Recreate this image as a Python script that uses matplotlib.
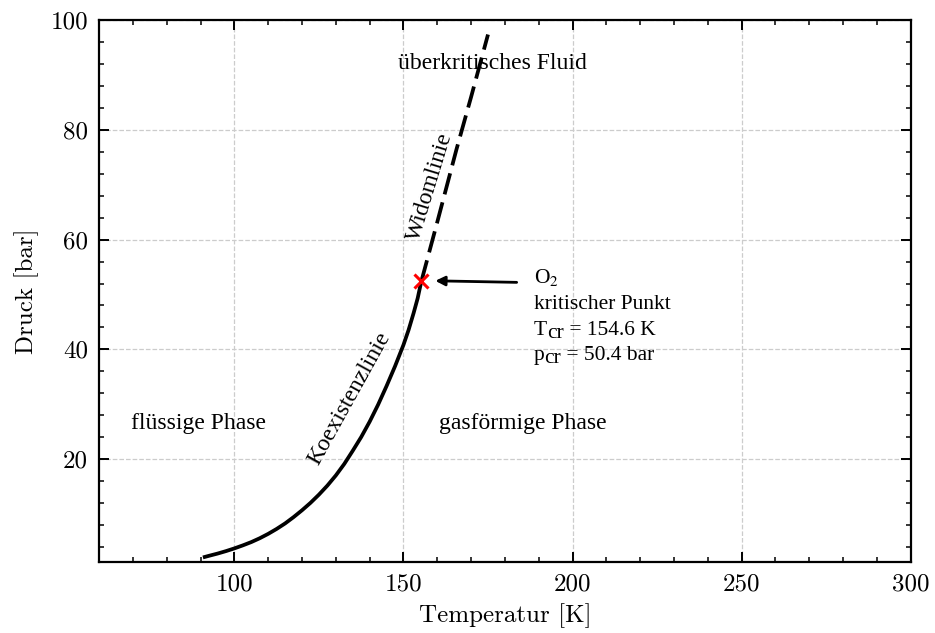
import matplotlib
matplotlib.use("Agg")
import matplotlib.pyplot as plt
from matplotlib.ticker import MultipleLocator

# Koexistenzlinie (Dampfdruckkurve O2)
T_koex = [90.7, 92.5, 95, 97.5, 100, 102.5, 105, 107.5, 110, 112.5, 115, 117.5, 120,
          122.5, 125, 127.5, 130, 132.5, 135, 137.5, 140, 142.5, 145, 147.5, 150,
          151.5, 153, 154.2, 154.9, 155.3]
p_koex = [2.05, 2.35, 2.75, 3.2, 3.7, 4.25, 4.85, 5.55, 6.35, 7.25, 8.25, 9.4, 10.65,
          12.0, 13.5, 15.15, 17.0, 19.1, 21.5, 24.0, 26.8, 29.9, 33.3, 36.9, 40.8,
          43.5, 46.6, 49.3, 51.3, 52.4]

# Widomlinie
T_widom = [155.3, 160, 165.7, 170, 175.0]
p_widom = [52.4, 63.2, 76.5, 86.0, 97.4]

# kritischer Punkt (Marker-Position)
T_crit = 155.3
p_crit = 52.5

x_ticks = [100, 150, 200, 250, 300]
y_ticks = [20, 40, 60, 80, 100]

cm_font = "cmr10"
txt_font = "Liberation Serif"

fig = plt.figure(figsize=(9.35, 6.33), dpi=100)
ax = fig.add_axes([0.106, 0.112, 0.868, 0.856])

ax.plot(T_koex, p_koex, color="black", lw=2.7, solid_capstyle="butt", solid_joinstyle="round")
ax.plot(T_widom, p_widom, color="black", lw=2.7, ls=(0, (5.8, 2.2)))
ax.plot([T_crit], [p_crit], marker="x", color="red", ms=10, mew=2.2, ls="none", zorder=5)

ax.annotate("", xy=(158.6, 52.5), xytext=(184.3, 52.2),
            arrowprops=dict(arrowstyle="-|>", color="black", lw=2, mutation_scale=14))

# Beschriftung kritischer Punkt
fs_ann = 15.5
x_ann = 188.5
ax.text(x_ann, 52.04, "O$_2$", fontsize=fs_ann, family=txt_font, math_fontfamily="stix",
        va="baseline", ha="left")
ax.text(x_ann, 47.3, "kritischer Punkt", fontsize=fs_ann, family=txt_font,
        va="baseline", ha="left")
for y_b, sym, rest in [(42.6, "T", " = 154.6 K"), (38.1, "p", " = 50.4 bar")]:
    t0 = ax.text(x_ann, y_b, sym, fontsize=fs_ann, family=txt_font, va="baseline", ha="left")
    t1 = ax.annotate("cr", xy=(1, 0), xycoords=t0, xytext=(0, -2.2), textcoords="offset points",
                     fontsize=fs_ann, family=txt_font, va="bottom", ha="left")
    ax.annotate(rest, xy=(1, 0), xycoords=t1, xytext=(0, 2.2), textcoords="offset points",
                fontsize=fs_ann, family=txt_font, va="bottom", ha="left")

ax.text(176.2, 92.2, "überkritisches Fluid", fontsize=17, family=txt_font, ha="center", va="center")
ax.text(89.3, 26.4, "flüssige Phase", fontsize=17, family=txt_font, ha="center", va="center")
ax.text(185.2, 26.4, "gasförmige Phase", fontsize=17, family=txt_font, ha="center", va="center")
ax.text(134.0, 31.0, "Koexistenzlinie", fontsize=17, family=txt_font, rotation=61,
        ha="center", va="center", rotation_mode="anchor")
ax.text(157.9, 69.6, "Widomlinie", fontsize=17, family=txt_font, rotation=73,
        ha="center", va="center", rotation_mode="anchor")

ax.set_xlim(60, 300)
ax.set_ylim(1.2, 100)
ax.set_xticks(x_ticks)
ax.set_yticks(y_ticks)
ax.xaxis.set_minor_locator(MultipleLocator(10))
ax.yaxis.set_minor_locator(MultipleLocator(4))
ax.tick_params(which="both", direction="in", top=True, right=True)
ax.tick_params(which="major", length=7, width=1.4, labelsize=18, pad=8)
ax.tick_params(which="minor", length=3.5, width=1.1)
for lab in ax.get_xticklabels() + ax.get_yticklabels():
    lab.set_family(cm_font)
for s in ax.spines.values():
    s.set_linewidth(1.6)

ax.grid(True, which="major", ls="--", color="#cccccc", lw=0.9)
ax.set_axisbelow(True)

ax.set_xlabel("Temperatur [K]", family=cm_font, fontsize=18, labelpad=6)
ax.set_ylabel("Druck [bar]", family=cm_font, fontsize=18, labelpad=8)

fig.savefig("out.png", dpi=100)
